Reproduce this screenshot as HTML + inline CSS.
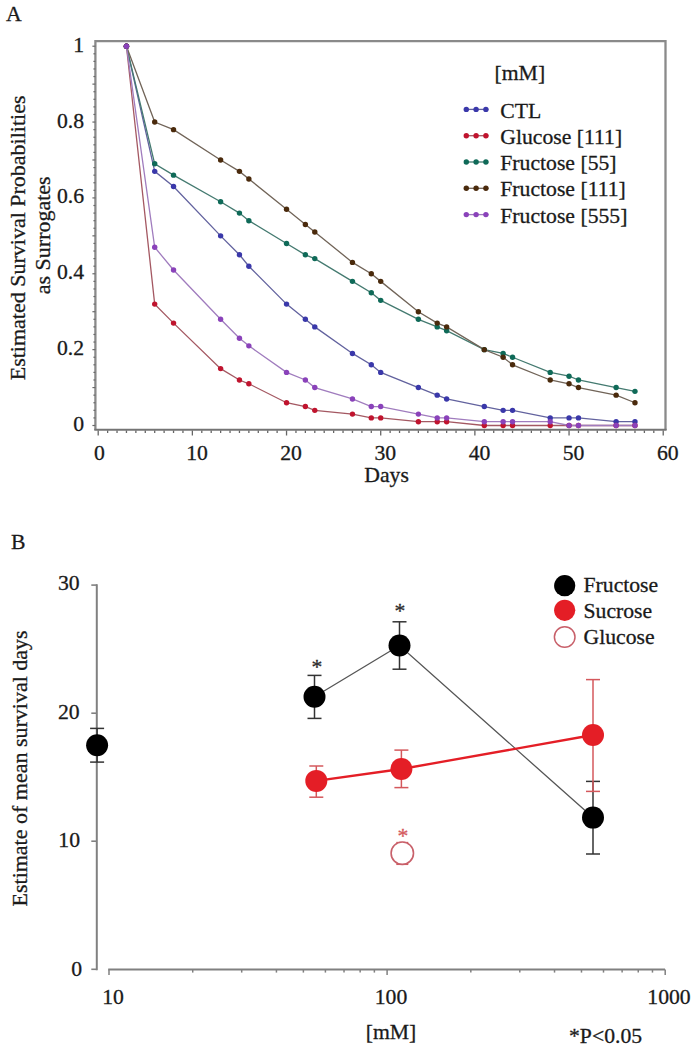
<!DOCTYPE html>
<html><head><meta charset="utf-8"><style>
html,body{margin:0;padding:0;background:#fff;width:696px;height:1050px;overflow:hidden}
svg{display:block}
.t{font-family:"Liberation Serif", serif;font-size:21.7px;fill:#1a1a1a;stroke:#1a1a1a;stroke-width:0.3px}
</style></head><body>
<svg width="696" height="1050" viewBox="0 0 696 1050">
<rect width="696" height="1050" fill="#fff"/>
<path d="M95.4,429.9 V41.2 H665.5 V429.9" fill="none" stroke="#8a8a8a" stroke-width="2.3"/>
<line x1="94.3" y1="429.7" x2="666.6" y2="429.7" stroke="#747474" stroke-width="1.9"/>
<line x1="98.20" y1="430.5" x2="98.20" y2="435.5" stroke="#666" stroke-width="1.3"/>
<line x1="107.62" y1="430.5" x2="107.62" y2="433.0" stroke="#666" stroke-width="1.3"/>
<line x1="117.03" y1="430.5" x2="117.03" y2="433.0" stroke="#666" stroke-width="1.3"/>
<line x1="126.45" y1="430.5" x2="126.45" y2="433.0" stroke="#666" stroke-width="1.3"/>
<line x1="135.87" y1="430.5" x2="135.87" y2="433.0" stroke="#666" stroke-width="1.3"/>
<line x1="145.28" y1="430.5" x2="145.28" y2="433.0" stroke="#666" stroke-width="1.3"/>
<line x1="154.70" y1="430.5" x2="154.70" y2="433.0" stroke="#666" stroke-width="1.3"/>
<line x1="164.12" y1="430.5" x2="164.12" y2="433.0" stroke="#666" stroke-width="1.3"/>
<line x1="173.54" y1="430.5" x2="173.54" y2="433.0" stroke="#666" stroke-width="1.3"/>
<line x1="182.95" y1="430.5" x2="182.95" y2="433.0" stroke="#666" stroke-width="1.3"/>
<line x1="192.37" y1="430.5" x2="192.37" y2="435.5" stroke="#666" stroke-width="1.3"/>
<line x1="201.79" y1="430.5" x2="201.79" y2="433.0" stroke="#666" stroke-width="1.3"/>
<line x1="211.20" y1="430.5" x2="211.20" y2="433.0" stroke="#666" stroke-width="1.3"/>
<line x1="220.62" y1="430.5" x2="220.62" y2="433.0" stroke="#666" stroke-width="1.3"/>
<line x1="230.04" y1="430.5" x2="230.04" y2="433.0" stroke="#666" stroke-width="1.3"/>
<line x1="239.45" y1="430.5" x2="239.45" y2="433.0" stroke="#666" stroke-width="1.3"/>
<line x1="248.87" y1="430.5" x2="248.87" y2="433.0" stroke="#666" stroke-width="1.3"/>
<line x1="258.29" y1="430.5" x2="258.29" y2="433.0" stroke="#666" stroke-width="1.3"/>
<line x1="267.71" y1="430.5" x2="267.71" y2="433.0" stroke="#666" stroke-width="1.3"/>
<line x1="277.12" y1="430.5" x2="277.12" y2="433.0" stroke="#666" stroke-width="1.3"/>
<line x1="286.54" y1="430.5" x2="286.54" y2="435.5" stroke="#666" stroke-width="1.3"/>
<line x1="295.96" y1="430.5" x2="295.96" y2="433.0" stroke="#666" stroke-width="1.3"/>
<line x1="305.37" y1="430.5" x2="305.37" y2="433.0" stroke="#666" stroke-width="1.3"/>
<line x1="314.79" y1="430.5" x2="314.79" y2="433.0" stroke="#666" stroke-width="1.3"/>
<line x1="324.21" y1="430.5" x2="324.21" y2="433.0" stroke="#666" stroke-width="1.3"/>
<line x1="333.62" y1="430.5" x2="333.62" y2="433.0" stroke="#666" stroke-width="1.3"/>
<line x1="343.04" y1="430.5" x2="343.04" y2="433.0" stroke="#666" stroke-width="1.3"/>
<line x1="352.46" y1="430.5" x2="352.46" y2="433.0" stroke="#666" stroke-width="1.3"/>
<line x1="361.88" y1="430.5" x2="361.88" y2="433.0" stroke="#666" stroke-width="1.3"/>
<line x1="371.29" y1="430.5" x2="371.29" y2="433.0" stroke="#666" stroke-width="1.3"/>
<line x1="380.71" y1="430.5" x2="380.71" y2="435.5" stroke="#666" stroke-width="1.3"/>
<line x1="390.13" y1="430.5" x2="390.13" y2="433.0" stroke="#666" stroke-width="1.3"/>
<line x1="399.54" y1="430.5" x2="399.54" y2="433.0" stroke="#666" stroke-width="1.3"/>
<line x1="408.96" y1="430.5" x2="408.96" y2="433.0" stroke="#666" stroke-width="1.3"/>
<line x1="418.38" y1="430.5" x2="418.38" y2="433.0" stroke="#666" stroke-width="1.3"/>
<line x1="427.79" y1="430.5" x2="427.79" y2="433.0" stroke="#666" stroke-width="1.3"/>
<line x1="437.21" y1="430.5" x2="437.21" y2="433.0" stroke="#666" stroke-width="1.3"/>
<line x1="446.63" y1="430.5" x2="446.63" y2="433.0" stroke="#666" stroke-width="1.3"/>
<line x1="456.05" y1="430.5" x2="456.05" y2="433.0" stroke="#666" stroke-width="1.3"/>
<line x1="465.46" y1="430.5" x2="465.46" y2="433.0" stroke="#666" stroke-width="1.3"/>
<line x1="474.88" y1="430.5" x2="474.88" y2="435.5" stroke="#666" stroke-width="1.3"/>
<line x1="484.30" y1="430.5" x2="484.30" y2="433.0" stroke="#666" stroke-width="1.3"/>
<line x1="493.71" y1="430.5" x2="493.71" y2="433.0" stroke="#666" stroke-width="1.3"/>
<line x1="503.13" y1="430.5" x2="503.13" y2="433.0" stroke="#666" stroke-width="1.3"/>
<line x1="512.55" y1="430.5" x2="512.55" y2="433.0" stroke="#666" stroke-width="1.3"/>
<line x1="521.97" y1="430.5" x2="521.97" y2="433.0" stroke="#666" stroke-width="1.3"/>
<line x1="531.38" y1="430.5" x2="531.38" y2="433.0" stroke="#666" stroke-width="1.3"/>
<line x1="540.80" y1="430.5" x2="540.80" y2="433.0" stroke="#666" stroke-width="1.3"/>
<line x1="550.22" y1="430.5" x2="550.22" y2="433.0" stroke="#666" stroke-width="1.3"/>
<line x1="559.63" y1="430.5" x2="559.63" y2="433.0" stroke="#666" stroke-width="1.3"/>
<line x1="569.05" y1="430.5" x2="569.05" y2="435.5" stroke="#666" stroke-width="1.3"/>
<line x1="578.47" y1="430.5" x2="578.47" y2="433.0" stroke="#666" stroke-width="1.3"/>
<line x1="587.88" y1="430.5" x2="587.88" y2="433.0" stroke="#666" stroke-width="1.3"/>
<line x1="597.30" y1="430.5" x2="597.30" y2="433.0" stroke="#666" stroke-width="1.3"/>
<line x1="606.72" y1="430.5" x2="606.72" y2="433.0" stroke="#666" stroke-width="1.3"/>
<line x1="616.13" y1="430.5" x2="616.13" y2="433.0" stroke="#666" stroke-width="1.3"/>
<line x1="625.55" y1="430.5" x2="625.55" y2="433.0" stroke="#666" stroke-width="1.3"/>
<line x1="634.97" y1="430.5" x2="634.97" y2="433.0" stroke="#666" stroke-width="1.3"/>
<line x1="644.39" y1="430.5" x2="644.39" y2="433.0" stroke="#666" stroke-width="1.3"/>
<line x1="653.80" y1="430.5" x2="653.80" y2="433.0" stroke="#666" stroke-width="1.3"/>
<line x1="663.22" y1="430.5" x2="663.22" y2="435.5" stroke="#666" stroke-width="1.3"/>
<line x1="92.39999999999999" y1="425.50" x2="95.4" y2="425.50" stroke="#6a6a6a" stroke-width="1.2"/>
<line x1="93.39999999999999" y1="417.91" x2="95.4" y2="417.91" stroke="#6a6a6a" stroke-width="1.2"/>
<line x1="93.39999999999999" y1="410.33" x2="95.4" y2="410.33" stroke="#6a6a6a" stroke-width="1.2"/>
<line x1="93.39999999999999" y1="402.74" x2="95.4" y2="402.74" stroke="#6a6a6a" stroke-width="1.2"/>
<line x1="93.39999999999999" y1="395.16" x2="95.4" y2="395.16" stroke="#6a6a6a" stroke-width="1.2"/>
<line x1="92.39999999999999" y1="387.57" x2="95.4" y2="387.57" stroke="#6a6a6a" stroke-width="1.2"/>
<line x1="93.39999999999999" y1="379.98" x2="95.4" y2="379.98" stroke="#6a6a6a" stroke-width="1.2"/>
<line x1="93.39999999999999" y1="372.40" x2="95.4" y2="372.40" stroke="#6a6a6a" stroke-width="1.2"/>
<line x1="93.39999999999999" y1="364.81" x2="95.4" y2="364.81" stroke="#6a6a6a" stroke-width="1.2"/>
<line x1="93.39999999999999" y1="357.23" x2="95.4" y2="357.23" stroke="#6a6a6a" stroke-width="1.2"/>
<line x1="92.39999999999999" y1="349.64" x2="95.4" y2="349.64" stroke="#6a6a6a" stroke-width="1.2"/>
<line x1="93.39999999999999" y1="342.05" x2="95.4" y2="342.05" stroke="#6a6a6a" stroke-width="1.2"/>
<line x1="93.39999999999999" y1="334.47" x2="95.4" y2="334.47" stroke="#6a6a6a" stroke-width="1.2"/>
<line x1="93.39999999999999" y1="326.88" x2="95.4" y2="326.88" stroke="#6a6a6a" stroke-width="1.2"/>
<line x1="93.39999999999999" y1="319.30" x2="95.4" y2="319.30" stroke="#6a6a6a" stroke-width="1.2"/>
<line x1="92.39999999999999" y1="311.71" x2="95.4" y2="311.71" stroke="#6a6a6a" stroke-width="1.2"/>
<line x1="93.39999999999999" y1="304.12" x2="95.4" y2="304.12" stroke="#6a6a6a" stroke-width="1.2"/>
<line x1="93.39999999999999" y1="296.54" x2="95.4" y2="296.54" stroke="#6a6a6a" stroke-width="1.2"/>
<line x1="93.39999999999999" y1="288.95" x2="95.4" y2="288.95" stroke="#6a6a6a" stroke-width="1.2"/>
<line x1="93.39999999999999" y1="281.37" x2="95.4" y2="281.37" stroke="#6a6a6a" stroke-width="1.2"/>
<line x1="92.39999999999999" y1="273.78" x2="95.4" y2="273.78" stroke="#6a6a6a" stroke-width="1.2"/>
<line x1="93.39999999999999" y1="266.19" x2="95.4" y2="266.19" stroke="#6a6a6a" stroke-width="1.2"/>
<line x1="93.39999999999999" y1="258.61" x2="95.4" y2="258.61" stroke="#6a6a6a" stroke-width="1.2"/>
<line x1="93.39999999999999" y1="251.02" x2="95.4" y2="251.02" stroke="#6a6a6a" stroke-width="1.2"/>
<line x1="93.39999999999999" y1="243.44" x2="95.4" y2="243.44" stroke="#6a6a6a" stroke-width="1.2"/>
<line x1="92.39999999999999" y1="235.85" x2="95.4" y2="235.85" stroke="#6a6a6a" stroke-width="1.2"/>
<line x1="93.39999999999999" y1="228.26" x2="95.4" y2="228.26" stroke="#6a6a6a" stroke-width="1.2"/>
<line x1="93.39999999999999" y1="220.68" x2="95.4" y2="220.68" stroke="#6a6a6a" stroke-width="1.2"/>
<line x1="93.39999999999999" y1="213.09" x2="95.4" y2="213.09" stroke="#6a6a6a" stroke-width="1.2"/>
<line x1="93.39999999999999" y1="205.51" x2="95.4" y2="205.51" stroke="#6a6a6a" stroke-width="1.2"/>
<line x1="92.39999999999999" y1="197.92" x2="95.4" y2="197.92" stroke="#6a6a6a" stroke-width="1.2"/>
<line x1="93.39999999999999" y1="190.33" x2="95.4" y2="190.33" stroke="#6a6a6a" stroke-width="1.2"/>
<line x1="93.39999999999999" y1="182.75" x2="95.4" y2="182.75" stroke="#6a6a6a" stroke-width="1.2"/>
<line x1="93.39999999999999" y1="175.16" x2="95.4" y2="175.16" stroke="#6a6a6a" stroke-width="1.2"/>
<line x1="93.39999999999999" y1="167.58" x2="95.4" y2="167.58" stroke="#6a6a6a" stroke-width="1.2"/>
<line x1="92.39999999999999" y1="159.99" x2="95.4" y2="159.99" stroke="#6a6a6a" stroke-width="1.2"/>
<line x1="93.39999999999999" y1="152.40" x2="95.4" y2="152.40" stroke="#6a6a6a" stroke-width="1.2"/>
<line x1="93.39999999999999" y1="144.82" x2="95.4" y2="144.82" stroke="#6a6a6a" stroke-width="1.2"/>
<line x1="93.39999999999999" y1="137.23" x2="95.4" y2="137.23" stroke="#6a6a6a" stroke-width="1.2"/>
<line x1="93.39999999999999" y1="129.65" x2="95.4" y2="129.65" stroke="#6a6a6a" stroke-width="1.2"/>
<line x1="92.39999999999999" y1="122.06" x2="95.4" y2="122.06" stroke="#6a6a6a" stroke-width="1.2"/>
<line x1="93.39999999999999" y1="114.47" x2="95.4" y2="114.47" stroke="#6a6a6a" stroke-width="1.2"/>
<line x1="93.39999999999999" y1="106.89" x2="95.4" y2="106.89" stroke="#6a6a6a" stroke-width="1.2"/>
<line x1="93.39999999999999" y1="99.30" x2="95.4" y2="99.30" stroke="#6a6a6a" stroke-width="1.2"/>
<line x1="93.39999999999999" y1="91.72" x2="95.4" y2="91.72" stroke="#6a6a6a" stroke-width="1.2"/>
<line x1="92.39999999999999" y1="84.13" x2="95.4" y2="84.13" stroke="#6a6a6a" stroke-width="1.2"/>
<line x1="93.39999999999999" y1="76.54" x2="95.4" y2="76.54" stroke="#6a6a6a" stroke-width="1.2"/>
<line x1="93.39999999999999" y1="68.96" x2="95.4" y2="68.96" stroke="#6a6a6a" stroke-width="1.2"/>
<line x1="93.39999999999999" y1="61.37" x2="95.4" y2="61.37" stroke="#6a6a6a" stroke-width="1.2"/>
<line x1="93.39999999999999" y1="53.79" x2="95.4" y2="53.79" stroke="#6a6a6a" stroke-width="1.2"/>
<line x1="92.39999999999999" y1="46.20" x2="95.4" y2="46.20" stroke="#6a6a6a" stroke-width="1.2"/>
<polyline points="126.45,46.20 154.70,171.37 173.54,186.54 220.62,235.85 239.45,254.81 248.87,266.19 286.54,304.12 305.37,319.30 314.79,326.88 352.46,353.43 371.29,364.81 380.71,372.40 418.38,387.57 437.21,395.16 446.63,398.95 484.30,406.53 503.13,410.33 512.55,410.33 550.22,417.91 569.05,417.91 578.47,417.91 616.13,421.71 634.97,421.71" fill="none" stroke="#62629e" stroke-width="1.3"/>
<polyline points="126.45,46.20 154.70,304.12 173.54,323.09 220.62,368.61 239.45,379.98 248.87,383.78 286.54,402.74 305.37,406.53 314.79,410.33 352.46,414.12 371.29,417.91 380.71,417.91 418.38,421.71 437.21,421.71 446.63,421.71 484.30,425.50 503.13,425.50 512.55,425.50 550.22,425.50 569.05,425.50 578.47,425.50 616.13,425.50 634.97,425.50" fill="none" stroke="#a45862" stroke-width="1.3"/>
<polyline points="126.45,46.20 154.70,163.78 173.54,175.16 220.62,201.71 239.45,213.09 248.87,220.68 286.54,243.44 305.37,254.81 314.79,258.61 352.46,281.37 371.29,292.75 380.71,300.33 418.38,319.30 437.21,326.88 446.63,330.68 484.30,349.64 503.13,353.43 512.55,357.23 550.22,372.40 569.05,376.19 578.47,379.98 616.13,387.57 634.97,391.36" fill="none" stroke="#447a70" stroke-width="1.3"/>
<polyline points="126.45,46.20 154.70,122.06 173.54,129.65 220.62,159.99 239.45,171.37 248.87,178.95 286.54,209.30 305.37,224.47 314.79,232.06 352.46,262.40 371.29,273.78 380.71,281.37 418.38,311.71 437.21,323.09 446.63,326.88 484.30,349.64 503.13,357.23 512.55,364.81 550.22,379.98 569.05,383.78 578.47,387.57 616.13,395.16 634.97,402.74" fill="none" stroke="#716458" stroke-width="1.3"/>
<polyline points="126.45,46.20 154.70,247.23 173.54,269.99 220.62,319.30 239.45,338.26 248.87,345.85 286.54,372.40 305.37,379.98 314.79,387.57 352.46,398.95 371.29,406.53 380.71,406.53 418.38,414.12 437.21,417.91 446.63,417.91 484.30,421.71 503.13,421.71 512.55,421.71 550.22,421.71 569.05,425.50 578.47,425.50 616.13,425.50 634.97,425.50" fill="none" stroke="#a07cbe" stroke-width="1.3"/>
<circle cx="126.45" cy="46.20" r="2.7" fill="#3a38aa"/>
<circle cx="154.70" cy="171.37" r="2.7" fill="#3a38aa"/>
<circle cx="173.54" cy="186.54" r="2.7" fill="#3a38aa"/>
<circle cx="220.62" cy="235.85" r="2.7" fill="#3a38aa"/>
<circle cx="239.45" cy="254.81" r="2.7" fill="#3a38aa"/>
<circle cx="248.87" cy="266.19" r="2.7" fill="#3a38aa"/>
<circle cx="286.54" cy="304.12" r="2.7" fill="#3a38aa"/>
<circle cx="305.37" cy="319.30" r="2.7" fill="#3a38aa"/>
<circle cx="314.79" cy="326.88" r="2.7" fill="#3a38aa"/>
<circle cx="352.46" cy="353.43" r="2.7" fill="#3a38aa"/>
<circle cx="371.29" cy="364.81" r="2.7" fill="#3a38aa"/>
<circle cx="380.71" cy="372.40" r="2.7" fill="#3a38aa"/>
<circle cx="418.38" cy="387.57" r="2.7" fill="#3a38aa"/>
<circle cx="437.21" cy="395.16" r="2.7" fill="#3a38aa"/>
<circle cx="446.63" cy="398.95" r="2.7" fill="#3a38aa"/>
<circle cx="484.30" cy="406.53" r="2.7" fill="#3a38aa"/>
<circle cx="503.13" cy="410.33" r="2.7" fill="#3a38aa"/>
<circle cx="512.55" cy="410.33" r="2.7" fill="#3a38aa"/>
<circle cx="550.22" cy="417.91" r="2.7" fill="#3a38aa"/>
<circle cx="569.05" cy="417.91" r="2.7" fill="#3a38aa"/>
<circle cx="578.47" cy="417.91" r="2.7" fill="#3a38aa"/>
<circle cx="616.13" cy="421.71" r="2.7" fill="#3a38aa"/>
<circle cx="634.97" cy="421.71" r="2.7" fill="#3a38aa"/>
<circle cx="126.45" cy="46.20" r="2.7" fill="#c0142e"/>
<circle cx="154.70" cy="304.12" r="2.7" fill="#c0142e"/>
<circle cx="173.54" cy="323.09" r="2.7" fill="#c0142e"/>
<circle cx="220.62" cy="368.61" r="2.7" fill="#c0142e"/>
<circle cx="239.45" cy="379.98" r="2.7" fill="#c0142e"/>
<circle cx="248.87" cy="383.78" r="2.7" fill="#c0142e"/>
<circle cx="286.54" cy="402.74" r="2.7" fill="#c0142e"/>
<circle cx="305.37" cy="406.53" r="2.7" fill="#c0142e"/>
<circle cx="314.79" cy="410.33" r="2.7" fill="#c0142e"/>
<circle cx="352.46" cy="414.12" r="2.7" fill="#c0142e"/>
<circle cx="371.29" cy="417.91" r="2.7" fill="#c0142e"/>
<circle cx="380.71" cy="417.91" r="2.7" fill="#c0142e"/>
<circle cx="418.38" cy="421.71" r="2.7" fill="#c0142e"/>
<circle cx="437.21" cy="421.71" r="2.7" fill="#c0142e"/>
<circle cx="446.63" cy="421.71" r="2.7" fill="#c0142e"/>
<circle cx="484.30" cy="425.50" r="2.7" fill="#c0142e"/>
<circle cx="503.13" cy="425.50" r="2.7" fill="#c0142e"/>
<circle cx="512.55" cy="425.50" r="2.7" fill="#c0142e"/>
<circle cx="550.22" cy="425.50" r="2.7" fill="#c0142e"/>
<circle cx="569.05" cy="425.50" r="2.7" fill="#c0142e"/>
<circle cx="578.47" cy="425.50" r="2.7" fill="#c0142e"/>
<circle cx="616.13" cy="425.50" r="2.7" fill="#c0142e"/>
<circle cx="634.97" cy="425.50" r="2.7" fill="#c0142e"/>
<circle cx="126.45" cy="46.20" r="2.7" fill="#0f6a58"/>
<circle cx="154.70" cy="163.78" r="2.7" fill="#0f6a58"/>
<circle cx="173.54" cy="175.16" r="2.7" fill="#0f6a58"/>
<circle cx="220.62" cy="201.71" r="2.7" fill="#0f6a58"/>
<circle cx="239.45" cy="213.09" r="2.7" fill="#0f6a58"/>
<circle cx="248.87" cy="220.68" r="2.7" fill="#0f6a58"/>
<circle cx="286.54" cy="243.44" r="2.7" fill="#0f6a58"/>
<circle cx="305.37" cy="254.81" r="2.7" fill="#0f6a58"/>
<circle cx="314.79" cy="258.61" r="2.7" fill="#0f6a58"/>
<circle cx="352.46" cy="281.37" r="2.7" fill="#0f6a58"/>
<circle cx="371.29" cy="292.75" r="2.7" fill="#0f6a58"/>
<circle cx="380.71" cy="300.33" r="2.7" fill="#0f6a58"/>
<circle cx="418.38" cy="319.30" r="2.7" fill="#0f6a58"/>
<circle cx="437.21" cy="326.88" r="2.7" fill="#0f6a58"/>
<circle cx="446.63" cy="330.68" r="2.7" fill="#0f6a58"/>
<circle cx="484.30" cy="349.64" r="2.7" fill="#0f6a58"/>
<circle cx="503.13" cy="353.43" r="2.7" fill="#0f6a58"/>
<circle cx="512.55" cy="357.23" r="2.7" fill="#0f6a58"/>
<circle cx="550.22" cy="372.40" r="2.7" fill="#0f6a58"/>
<circle cx="569.05" cy="376.19" r="2.7" fill="#0f6a58"/>
<circle cx="578.47" cy="379.98" r="2.7" fill="#0f6a58"/>
<circle cx="616.13" cy="387.57" r="2.7" fill="#0f6a58"/>
<circle cx="634.97" cy="391.36" r="2.7" fill="#0f6a58"/>
<circle cx="126.45" cy="46.20" r="2.7" fill="#4a2a0c"/>
<circle cx="154.70" cy="122.06" r="2.7" fill="#4a2a0c"/>
<circle cx="173.54" cy="129.65" r="2.7" fill="#4a2a0c"/>
<circle cx="220.62" cy="159.99" r="2.7" fill="#4a2a0c"/>
<circle cx="239.45" cy="171.37" r="2.7" fill="#4a2a0c"/>
<circle cx="248.87" cy="178.95" r="2.7" fill="#4a2a0c"/>
<circle cx="286.54" cy="209.30" r="2.7" fill="#4a2a0c"/>
<circle cx="305.37" cy="224.47" r="2.7" fill="#4a2a0c"/>
<circle cx="314.79" cy="232.06" r="2.7" fill="#4a2a0c"/>
<circle cx="352.46" cy="262.40" r="2.7" fill="#4a2a0c"/>
<circle cx="371.29" cy="273.78" r="2.7" fill="#4a2a0c"/>
<circle cx="380.71" cy="281.37" r="2.7" fill="#4a2a0c"/>
<circle cx="418.38" cy="311.71" r="2.7" fill="#4a2a0c"/>
<circle cx="437.21" cy="323.09" r="2.7" fill="#4a2a0c"/>
<circle cx="446.63" cy="326.88" r="2.7" fill="#4a2a0c"/>
<circle cx="484.30" cy="349.64" r="2.7" fill="#4a2a0c"/>
<circle cx="503.13" cy="357.23" r="2.7" fill="#4a2a0c"/>
<circle cx="512.55" cy="364.81" r="2.7" fill="#4a2a0c"/>
<circle cx="550.22" cy="379.98" r="2.7" fill="#4a2a0c"/>
<circle cx="569.05" cy="383.78" r="2.7" fill="#4a2a0c"/>
<circle cx="578.47" cy="387.57" r="2.7" fill="#4a2a0c"/>
<circle cx="616.13" cy="395.16" r="2.7" fill="#4a2a0c"/>
<circle cx="634.97" cy="402.74" r="2.7" fill="#4a2a0c"/>
<circle cx="126.45" cy="46.20" r="2.7" fill="#8a42ba"/>
<circle cx="154.70" cy="247.23" r="2.7" fill="#8a42ba"/>
<circle cx="173.54" cy="269.99" r="2.7" fill="#8a42ba"/>
<circle cx="220.62" cy="319.30" r="2.7" fill="#8a42ba"/>
<circle cx="239.45" cy="338.26" r="2.7" fill="#8a42ba"/>
<circle cx="248.87" cy="345.85" r="2.7" fill="#8a42ba"/>
<circle cx="286.54" cy="372.40" r="2.7" fill="#8a42ba"/>
<circle cx="305.37" cy="379.98" r="2.7" fill="#8a42ba"/>
<circle cx="314.79" cy="387.57" r="2.7" fill="#8a42ba"/>
<circle cx="352.46" cy="398.95" r="2.7" fill="#8a42ba"/>
<circle cx="371.29" cy="406.53" r="2.7" fill="#8a42ba"/>
<circle cx="380.71" cy="406.53" r="2.7" fill="#8a42ba"/>
<circle cx="418.38" cy="414.12" r="2.7" fill="#8a42ba"/>
<circle cx="437.21" cy="417.91" r="2.7" fill="#8a42ba"/>
<circle cx="446.63" cy="417.91" r="2.7" fill="#8a42ba"/>
<circle cx="484.30" cy="421.71" r="2.7" fill="#8a42ba"/>
<circle cx="503.13" cy="421.71" r="2.7" fill="#8a42ba"/>
<circle cx="512.55" cy="421.71" r="2.7" fill="#8a42ba"/>
<circle cx="550.22" cy="421.71" r="2.7" fill="#8a42ba"/>
<circle cx="569.05" cy="425.50" r="2.7" fill="#8a42ba"/>
<circle cx="578.47" cy="425.50" r="2.7" fill="#8a42ba"/>
<circle cx="616.13" cy="425.50" r="2.7" fill="#8a42ba"/>
<circle cx="634.97" cy="425.50" r="2.7" fill="#8a42ba"/>
<text x="84" y="51.6" text-anchor="end" class="t">1</text>
<text x="84" y="127.5" text-anchor="end" class="t">0.8</text>
<text x="84" y="203.3" text-anchor="end" class="t">0.6</text>
<text x="84" y="279.2" text-anchor="end" class="t">0.4</text>
<text x="84" y="355.0" text-anchor="end" class="t">0.2</text>
<text x="84" y="430.9" text-anchor="end" class="t">0</text>
<text x="99.4" y="460" text-anchor="middle" class="t">0</text>
<text x="197.0" y="460" text-anchor="middle" class="t">10</text>
<text x="291.1" y="460" text-anchor="middle" class="t">20</text>
<text x="385.3" y="460" text-anchor="middle" class="t">30</text>
<text x="479.5" y="460" text-anchor="middle" class="t">40</text>
<text x="573.6" y="460" text-anchor="middle" class="t">50</text>
<text x="667.8" y="460" text-anchor="middle" class="t">60</text>
<text x="386.6" y="482.4" text-anchor="middle" class="t">Days</text>
<text x="6" y="20.5" class="t">A</text>
<text transform="translate(24.5,237.9) rotate(-90)" text-anchor="middle" class="t" style="font-size:22px">Estimated Survival Probabilities</text>
<text transform="translate(49.5,235.3) rotate(-90)" text-anchor="middle" class="t" style="font-size:22px">as Surrogates</text>
<text x="494.5" y="80" class="t">[mM]</text>
<line x1="464" y1="109.4" x2="488.5" y2="109.4" stroke="#62629e" stroke-width="1.3"/>
<circle cx="466.3" cy="109.4" r="2.7" fill="#3a38aa"/>
<circle cx="476.1" cy="109.4" r="2.7" fill="#3a38aa"/>
<circle cx="485.9" cy="109.4" r="2.7" fill="#3a38aa"/>
<text x="500.3" y="117.5" class="t">CTL</text>
<line x1="464" y1="135.7" x2="488.5" y2="135.7" stroke="#a45862" stroke-width="1.3"/>
<circle cx="466.3" cy="135.7" r="2.7" fill="#c0142e"/>
<circle cx="476.1" cy="135.7" r="2.7" fill="#c0142e"/>
<circle cx="485.9" cy="135.7" r="2.7" fill="#c0142e"/>
<text x="500.3" y="143.8" class="t">Glucose [111]</text>
<line x1="464" y1="162.0" x2="488.5" y2="162.0" stroke="#447a70" stroke-width="1.3"/>
<circle cx="466.3" cy="162.0" r="2.7" fill="#0f6a58"/>
<circle cx="476.1" cy="162.0" r="2.7" fill="#0f6a58"/>
<circle cx="485.9" cy="162.0" r="2.7" fill="#0f6a58"/>
<text x="500.3" y="170.1" class="t">Fructose [55]</text>
<line x1="464" y1="188.3" x2="488.5" y2="188.3" stroke="#716458" stroke-width="1.3"/>
<circle cx="466.3" cy="188.3" r="2.7" fill="#4a2a0c"/>
<circle cx="476.1" cy="188.3" r="2.7" fill="#4a2a0c"/>
<circle cx="485.9" cy="188.3" r="2.7" fill="#4a2a0c"/>
<text x="500.3" y="196.4" class="t">Fructose [111]</text>
<line x1="464" y1="214.6" x2="488.5" y2="214.6" stroke="#a07cbe" stroke-width="1.3"/>
<circle cx="466.3" cy="214.6" r="2.7" fill="#8a42ba"/>
<circle cx="476.1" cy="214.6" r="2.7" fill="#8a42ba"/>
<circle cx="485.9" cy="214.6" r="2.7" fill="#8a42ba"/>
<text x="500.3" y="222.7" class="t">Fructose [555]</text>
<line x1="96.8" y1="584.3" x2="96.8" y2="970.3" stroke="#808080" stroke-width="2"/>
<line x1="91.3" y1="969.3" x2="97" y2="969.3" stroke="#808080" stroke-width="1.6"/>
<text x="82.1" y="976.0" text-anchor="end" class="t">0</text>
<line x1="91.3" y1="841.2" x2="97" y2="841.2" stroke="#808080" stroke-width="1.6"/>
<text x="80.0" y="847.2" text-anchor="end" class="t">10</text>
<line x1="91.3" y1="713.2" x2="97" y2="713.2" stroke="#808080" stroke-width="1.6"/>
<text x="79.6" y="718.5" text-anchor="end" class="t">20</text>
<line x1="91.3" y1="585.1" x2="97" y2="585.1" stroke="#808080" stroke-width="1.6"/>
<text x="79.6" y="589.6" text-anchor="end" class="t">30</text>
<line x1="108.2" y1="969.6" x2="665" y2="969.6" stroke="#808080" stroke-width="2"/>
<line x1="109.00" y1="969.6" x2="109.00" y2="975.1" stroke="#808080" stroke-width="1.5"/>
<line x1="192.72" y1="969.6" x2="192.72" y2="972.6" stroke="#808080" stroke-width="1.5"/>
<line x1="241.69" y1="969.6" x2="241.69" y2="972.6" stroke="#808080" stroke-width="1.5"/>
<line x1="276.43" y1="969.6" x2="276.43" y2="972.6" stroke="#808080" stroke-width="1.5"/>
<line x1="303.38" y1="969.6" x2="303.38" y2="972.6" stroke="#808080" stroke-width="1.5"/>
<line x1="325.40" y1="969.6" x2="325.40" y2="972.6" stroke="#808080" stroke-width="1.5"/>
<line x1="344.02" y1="969.6" x2="344.02" y2="972.6" stroke="#808080" stroke-width="1.5"/>
<line x1="360.15" y1="969.6" x2="360.15" y2="972.6" stroke="#808080" stroke-width="1.5"/>
<line x1="374.37" y1="969.6" x2="374.37" y2="972.6" stroke="#808080" stroke-width="1.5"/>
<line x1="387.10" y1="969.6" x2="387.10" y2="975.1" stroke="#808080" stroke-width="1.5"/>
<line x1="470.82" y1="969.6" x2="470.82" y2="972.6" stroke="#808080" stroke-width="1.5"/>
<line x1="519.79" y1="969.6" x2="519.79" y2="972.6" stroke="#808080" stroke-width="1.5"/>
<line x1="554.53" y1="969.6" x2="554.53" y2="972.6" stroke="#808080" stroke-width="1.5"/>
<line x1="581.48" y1="969.6" x2="581.48" y2="972.6" stroke="#808080" stroke-width="1.5"/>
<line x1="603.50" y1="969.6" x2="603.50" y2="972.6" stroke="#808080" stroke-width="1.5"/>
<line x1="622.12" y1="969.6" x2="622.12" y2="972.6" stroke="#808080" stroke-width="1.5"/>
<line x1="638.25" y1="969.6" x2="638.25" y2="972.6" stroke="#808080" stroke-width="1.5"/>
<line x1="652.47" y1="969.6" x2="652.47" y2="972.6" stroke="#808080" stroke-width="1.5"/>
<line x1="665.20" y1="969.6" x2="665.20" y2="975.1" stroke="#808080" stroke-width="1.5"/>
<text x="113" y="1003.5" text-anchor="middle" class="t">10</text>
<text x="391" y="1003.5" text-anchor="middle" class="t">100</text>
<text x="669" y="1003.5" text-anchor="middle" class="t">1000</text>
<text x="391" y="1039" text-anchor="middle" class="t">[mM]</text>
<text x="569" y="1043" class="t">*P&lt;0.05</text>
<text x="11" y="548.5" class="t">B</text>
<text transform="translate(27.2,768.4) rotate(-90)" text-anchor="middle" class="t" style="font-size:22px">Estimate of mean survival days</text>
<polyline points="314.5,696.8 399.5,645.5 593,817.6" fill="none" stroke="#555" stroke-width="1.3"/>
<polyline points="316.3,780.9 401.4,769 593,735" fill="none" stroke="#e41e26" stroke-width="2.3"/>
<line x1="97.1" y1="728.4" x2="97.1" y2="762.1" stroke="#333" stroke-width="1.5"/>
<line x1="90.1" y1="728.4" x2="104.1" y2="728.4" stroke="#333" stroke-width="1.5"/>
<line x1="90.1" y1="762.1" x2="104.1" y2="762.1" stroke="#333" stroke-width="1.5"/>
<line x1="314.5" y1="675.4" x2="314.5" y2="718.4" stroke="#333" stroke-width="1.5"/>
<line x1="307.5" y1="675.4" x2="321.5" y2="675.4" stroke="#333" stroke-width="1.5"/>
<line x1="307.5" y1="718.4" x2="321.5" y2="718.4" stroke="#333" stroke-width="1.5"/>
<line x1="399.5" y1="621.8" x2="399.5" y2="669.2" stroke="#333" stroke-width="1.5"/>
<line x1="392.5" y1="621.8" x2="406.5" y2="621.8" stroke="#333" stroke-width="1.5"/>
<line x1="392.5" y1="669.2" x2="406.5" y2="669.2" stroke="#333" stroke-width="1.5"/>
<line x1="593" y1="781.4" x2="593" y2="854" stroke="#333" stroke-width="1.5"/>
<line x1="586.0" y1="781.4" x2="600.0" y2="781.4" stroke="#333" stroke-width="1.5"/>
<line x1="586.0" y1="854" x2="600.0" y2="854" stroke="#333" stroke-width="1.5"/>
<line x1="316.3" y1="766" x2="316.3" y2="797.2" stroke="#d4585c" stroke-width="1.5"/>
<line x1="309.3" y1="766" x2="323.3" y2="766" stroke="#d4585c" stroke-width="1.5"/>
<line x1="309.3" y1="797.2" x2="323.3" y2="797.2" stroke="#d4585c" stroke-width="1.5"/>
<line x1="401.4" y1="750.1" x2="401.4" y2="787.6" stroke="#d4585c" stroke-width="1.5"/>
<line x1="394.4" y1="750.1" x2="408.4" y2="750.1" stroke="#d4585c" stroke-width="1.5"/>
<line x1="394.4" y1="787.6" x2="408.4" y2="787.6" stroke="#d4585c" stroke-width="1.5"/>
<line x1="593" y1="679.6" x2="593" y2="791.4" stroke="#d4585c" stroke-width="1.5"/>
<line x1="586.0" y1="679.6" x2="600.0" y2="679.6" stroke="#d4585c" stroke-width="1.5"/>
<line x1="586.0" y1="791.4" x2="600.0" y2="791.4" stroke="#d4585c" stroke-width="1.5"/>
<line x1="402.3" y1="842.6" x2="402.3" y2="864.3" stroke="#d4585c" stroke-width="1.5"/>
<line x1="396.3" y1="842.6" x2="408.3" y2="842.6" stroke="#d4585c" stroke-width="1.5"/>
<line x1="396.3" y1="864.3" x2="408.3" y2="864.3" stroke="#d4585c" stroke-width="1.5"/>
<circle cx="97.1" cy="745.3" r="11" fill="#000"/>
<circle cx="314.5" cy="696.8" r="11" fill="#000"/>
<circle cx="399.5" cy="645.5" r="11" fill="#000"/>
<circle cx="593" cy="817.6" r="11" fill="#000"/>
<circle cx="316.3" cy="780.9" r="11" fill="#e41e26"/>
<circle cx="401.4" cy="769" r="11" fill="#e41e26"/>
<circle cx="593" cy="735" r="11" fill="#e41e26"/>
<circle cx="402.3" cy="853.2" r="11.2" fill="#fff" stroke="#c8606a" stroke-width="1.6"/>
<text x="316.8" y="673.6" text-anchor="middle" class="t" style="fill:#2a2a2a;stroke:#2a2a2a">*</text>
<text x="399.8" y="617.6" text-anchor="middle" class="t" style="fill:#2a2a2a;stroke:#2a2a2a">*</text>
<text x="403" y="842.8" text-anchor="middle" class="t" style="fill:#d4585c;stroke:#d4585c">*</text>
<circle cx="564.7" cy="585.7" r="10.6" fill="#000"/>
<circle cx="564.7" cy="610.3" r="10.6" fill="#e41e26"/>
<circle cx="564.7" cy="637" r="10.3" fill="#fff" stroke="#c8606a" stroke-width="1.5"/>
<text x="583.5" y="592.2" class="t">Fructose</text>
<text x="583.5" y="617.5" class="t">Sucrose</text>
<text x="583.5" y="643.5" class="t">Glucose</text>
</svg>
</body></html>
